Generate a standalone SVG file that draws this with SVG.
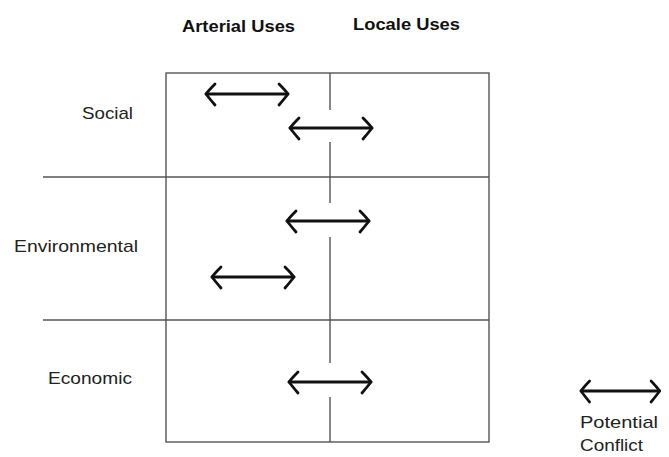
<svg xmlns="http://www.w3.org/2000/svg" width="669" height="457" viewBox="0 0 669 457">
  <style>
    .grid { stroke: #555; stroke-width: 1.4; fill: none; }
    .head { font-family: "Liberation Sans", Arial, sans-serif; font-weight: bold; font-size: 17px; fill: #111; }
    .lbl { font-family: "Liberation Sans", Arial, sans-serif; font-size: 17px; fill: #222; }
    .arr { stroke: #111; stroke-width: 2.8; fill: none; stroke-linecap: round; stroke-linejoin: round; }
  </style>
  <defs>
    <!-- double-headed conflict arrow, 84 px long, origin at left tip -->
    <g id="dbl">
      <path class="arr" d="M1,0 H83"/>
      <path class="arr" d="M10,-10 Q4,-4 1,0 Q4,4 10,11"/>
      <path class="arr" d="M74,-10 Q80,-4 83,0 Q80,4 74,11"/>
    </g>
  </defs>
  <rect width="669" height="457" fill="#fff"/>

  <!-- column headings -->
  <g id="col-arterial"><text class="head" x="182" y="32" textLength="113" lengthAdjust="spacingAndGlyphs">Arterial Uses</text></g>
  <g id="col-locale"><text class="head" x="353" y="30" textLength="107" lengthAdjust="spacingAndGlyphs">Locale Uses</text></g>

  <!-- grid -->
  <g id="grid">
    <rect class="grid" x="166" y="73" width="323" height="369"/>
    <line class="grid" x1="43" y1="177" x2="489" y2="177"/>
    <line class="grid" x1="43" y1="320" x2="489" y2="320"/>
    <path class="grid" d="M330,73 V110 M330,142 V203 M330,237 V363 M330,397 V442"/>
  </g>

  <!-- row labels -->
  <g id="row-social"><text class="lbl" x="82" y="119" textLength="51" lengthAdjust="spacingAndGlyphs">Social</text></g>
  <g id="row-environmental"><text class="lbl" x="14" y="252" textLength="124" lengthAdjust="spacingAndGlyphs">Environmental</text></g>
  <g id="row-economic"><text class="lbl" x="48" y="384" textLength="84" lengthAdjust="spacingAndGlyphs">Economic</text></g>

  <!-- conflict arrows -->
  <g id="connectors">
    <use href="#dbl" x="205" y="94"/>
    <use href="#dbl" x="289" y="128"/>
    <use href="#dbl" x="286" y="221"/>
    <use href="#dbl" x="211" y="277"/>
    <use href="#dbl" x="288" y="382"/>
  </g>

  <!-- legend -->
  <g id="legend">
    <use href="#dbl" x="580" y="391" transform="translate(580 391) scale(0.96 1) translate(-580 -391)"/>
    <text class="lbl" x="580" y="428" textLength="78" lengthAdjust="spacingAndGlyphs">Potential</text>
    <text class="lbl" x="580" y="451" textLength="63" lengthAdjust="spacingAndGlyphs">Conflict</text>
  </g>
</svg>
